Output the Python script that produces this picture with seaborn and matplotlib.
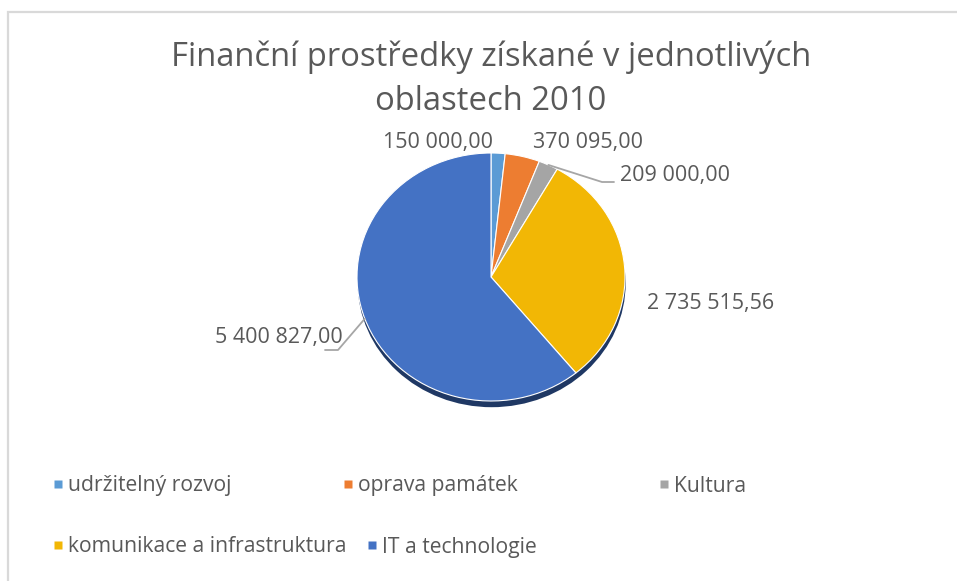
import matplotlib
matplotlib.use("Agg")
import matplotlib.pyplot as plt
import seaborn as sns
import numpy as np
from matplotlib.lines import Line2D
from matplotlib.patches import Ellipse, Rectangle

# ---- data ----
categories = ["udržitelný rozvoj", "oprava památek", "Kultura",
              "komunikace a infrastruktura", "IT a technologie"]
values = [150000.00, 370095.00, 209000.00, 2735515.56, 5400827.00]
value_labels = ["150 000,00", "370 095,00", "209 000,00", "2 735 515,56", "5 400 827,00"]
title_lines = ["Finanční prostředky získané v jednotlivých", "oblastech 2010"]
colors = ["#5B9BD5", "#ED7D31", "#A5A5A5", "#F2B705", "#4472C4"]

# ---- layout (pixels) ----
W, H = 957, 581
cx, cy, rx, ry = 491, 277, 134, 124
label_pos = [(438, 142, "center"), (588, 142, "center"), (620, 175, "left"),
             (711, 304, "center"), (343, 338, "right")]
leader = [None, None, (602, 182, 614), None, (338, 350, 325)]
legend_pos = [(57, 486), (347, 486), (663, 486), (57, 547), (371, 547)]
TXT = "#595959"

sns.set_theme(style="white")
plt.rcParams['font.family'] = ['Open Sans', 'DejaVu Sans']

fig = plt.figure(figsize=(W / 100, H / 100), dpi=100)
fig.patch.set_facecolor("white")

px = lambda x: x / W
py = lambda y: 1 - y / H

# chart border
fig.add_artist(Rectangle((8 / W, -0.1), 1.2, (H - 12) / H + 0.1, transform=fig.transFigure,
                         fill=False, edgecolor="#D9D9D9", linewidth=1.6))

# title
for t, ty in zip(title_lines, [57, 101]):
    fig.text(px(cx), py(ty), t, ha="center", va="center", fontsize=23.6, color=TXT)

# pie axes: elliptical by giving it a non-square pixel box
ax = fig.add_axes([(cx - rx) / W, (H - cy - ry) / H, 2 * rx / W, 2 * ry / H])

# shadow
shadow = Ellipse((0.005, -0.05), 2.0, 2.0, facecolor="#1F3864", edgecolor="none", zorder=0)
shadow.set_clip_on(False)
ax.add_patch(shadow)

wedges, _ = ax.pie(values, colors=colors, startangle=90, counterclock=False,
                   radius=1.0, wedgeprops=dict(edgecolor="white", linewidth=0.8))
for w in wedges:
    w.set_zorder(2)
    w.set_clip_on(False)
ax.set_aspect("auto")
ax.set_xlim(-1, 1)
ax.set_ylim(-1, 1)
ax.axis("off")

# data labels
total = sum(values)
cum = 0.0
for i, v in enumerate(values):
    mid = 90 - 360 * (cum + v / 2) / total
    cum += v
    x, y, ha = label_pos[i]
    fig.text(px(x), py(y), value_labels[i], ha=ha, va="center", fontsize=15.5, color=TXT)
    if leader[i] is not None:
        ex = cx + rx * np.cos(np.radians(mid))
        ey = cy - ry * np.sin(np.radians(mid))
        bx, by, tx = leader[i]
        fig.add_artist(Line2D([px(ex), px(bx), px(tx)], [py(ey), py(by), py(by)],
                              transform=fig.transFigure, color="#A6A6A6", linewidth=1.3))

# legend entries
for i, (lx, ly) in enumerate(legend_pos):
    h = Line2D([], [], marker="s", linestyle="none", markersize=5.5,
               markerfacecolor=colors[i], markeredgecolor="none")
    fig.legend([h], [categories[i]], loc="center left",
               bbox_to_anchor=(px(lx - 5), py(ly)), frameon=False, fontsize=15.2,
               handlelength=0.6, handletextpad=0.15, borderpad=0, borderaxespad=0,
               labelcolor=TXT)

fig.savefig("out.png", dpi=100, facecolor="white")
